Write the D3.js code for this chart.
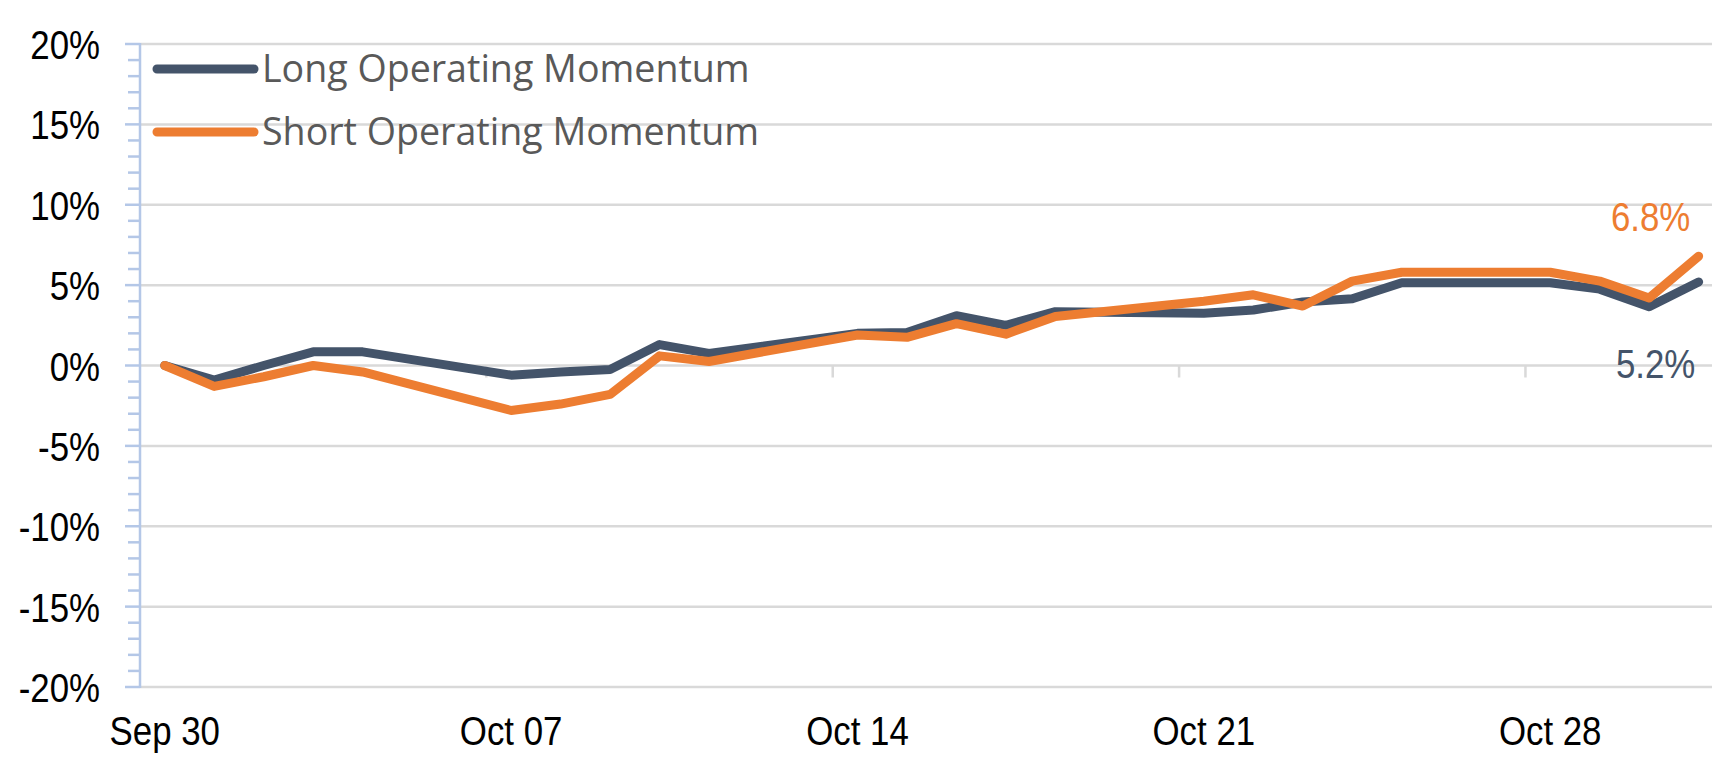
<!DOCTYPE html>
<html>
<head>
<meta charset="utf-8">
<script src="https://cdn.jsdelivr.net/npm/d3@7"></script>
<style>
  body { margin: 0; background: #fff; }
  .num { font-family: "Liberation Sans", Arial, sans-serif; }
  .leg { font-family: "Open Sans", "Noto Sans", sans-serif; fill: #595959; }
</style>
</head>
<body>
<svg id="chart"></svg>
<script>
// data (daily % return, business days)
const dates = ["2024-09-30", "2024-10-01", "2024-10-02", "2024-10-03", "2024-10-04",
  "2024-10-07", "2024-10-08", "2024-10-09", "2024-10-10", "2024-10-11",
  "2024-10-14", "2024-10-15", "2024-10-16", "2024-10-17", "2024-10-18",
  "2024-10-21", "2024-10-22", "2024-10-23", "2024-10-24", "2024-10-25",
  "2024-10-28", "2024-10-29", "2024-10-30", "2024-10-31"];
const longValues = [0, -0.9, 0.0, 0.85, 0.85,
  -0.6, -0.4, -0.25, 1.3, 0.75,
  2.0, 2.05, 3.1, 2.5, 3.35,
  3.25, 3.45, 3.95, 4.15, 5.15,
  5.15, 4.75, 3.65, 5.2];
const shortValues = [0, -1.3, -0.7, 0.0, -0.4,
  -2.8, -2.4, -1.8, 0.6, 0.25,
  1.9, 1.75, 2.6, 1.95, 3.05,
  4.0, 4.4, 3.7, 5.25, 5.8,
  5.8, 5.25, 4.2, 6.8];
const seriesNames = ["Long Operating Momentum", "Short Operating Momentum"];
const yTicks = [-20, -15, -10, -5, 0, 5, 10, 15, 20];
const xTickDates = ["2024-09-30", "2024-10-07", "2024-10-14", "2024-10-21", "2024-10-28"];

const W = 1712, H = 758;
const darkCol = "#44546A", orangeCol = "#ED7D31";
const squeeze = 0.85; // narrow look for the number font

const svg = d3.select("#chart").attr("width", W).attr("height", H);

const parse = d3.utcParse("%Y-%m-%d");
const halfDay = 12 * 3600 * 1000;

const x = d3.scaleUtc()
    .domain([new Date(parse("2024-09-30") - halfDay), new Date(+parse("2024-10-31") + halfDay / 2)])
    .range([140, 1711]);
const y = d3.scaleLinear().domain([-20, 20]).range([687, 44]);

const rows = dates.map((d, i) => ({date: parse(d), long: longValues[i], short: shortValues[i]}));

function placeNarrow(px, py) {
    return "translate(" + px + "," + py + ") scale(" + squeeze + ",1)";
}

// gridlines
svg.append("g")
    .selectAll("line")
    .data(yTicks)
    .enter()
    .append("line")
    .attr("x1", 140).attr("x2", W)
    .attr("y1", d => y(d)).attr("y2", d => y(d))
    .attr("stroke", "#D9D9D9")
    .attr("stroke-width", 2.5);

// y axis with minor ticks
const yAxis = svg.append("g");
yAxis.selectAll("line.minor")
    .data(d3.range(-20, 21, 1))
    .enter()
    .append("line")
    .attr("x1", d => d % 5 == 0 ? 125 : 128).attr("x2", 140)
    .attr("y1", d => y(d)).attr("y2", d => y(d))
    .attr("stroke", "#B4C7E7")
    .attr("stroke-width", 2.5);
yAxis.append("line")
    .attr("x1", 140).attr("x2", 140)
    .attr("y1", y(20) - 1).attr("y2", y(-20) + 1)
    .attr("stroke", "#B4C7E7")
    .attr("stroke-width", 2.5);

yAxis.selectAll("text")
    .data(yTicks)
    .enter()
    .append("text")
    .attr("class", "num")
    .attr("transform", d => placeNarrow(100, y(d) + 15))
    .attr("text-anchor", "end")
    .style("font-size", "41px")
    .attr("fill", "#000")
    .text(d => d + "%");

// x ticks (between days) on the 0 line, labels at bottom
svg.append("g")
    .selectAll("line")
    .data(xTickDates.slice(1))
    .enter()
    .append("line")
    .attr("x1", d => x(parse(d) - halfDay)).attr("x2", d => x(parse(d) - halfDay))
    .attr("y1", y(0)).attr("y2", y(0) + 12)
    .attr("stroke", "#D9D9D9")
    .attr("stroke-width", 2.5);

svg.append("g")
    .selectAll("text")
    .data(xTickDates)
    .enter()
    .append("text")
    .attr("class", "num")
    .attr("transform", d => placeNarrow(x(parse(d)), 745))
    .attr("text-anchor", "middle")
    .style("font-size", "41px")
    .attr("fill", "#000")
    .text(d => d3.utcFormat("%b %d")(parse(d)));

// lines
const lineLong = d3.line().x(d => x(d.date)).y(d => y(d.long));
const lineShort = d3.line().x(d => x(d.date)).y(d => y(d.short));

svg.append("path")
    .datum(rows)
    .attr("d", lineLong)
    .attr("fill", "none")
    .attr("stroke", darkCol)
    .attr("stroke-width", 9)
    .attr("stroke-linecap", "round")
    .attr("stroke-linejoin", "round");

svg.append("path")
    .datum(rows)
    .attr("d", lineShort)
    .attr("fill", "none")
    .attr("stroke", orangeCol)
    .attr("stroke-width", 9)
    .attr("stroke-linecap", "round")
    .attr("stroke-linejoin", "round");

// end labels
const last = rows[rows.length - 1];
svg.append("text")
    .attr("class", "num")
    .attr("transform", placeNarrow(x(last.date) - 48, y(last.short) - 25))
    .attr("text-anchor", "middle")
    .style("font-size", "41px")
    .attr("fill", orangeCol)
    .text(d3.format(".1f")(last.short) + "%");
svg.append("text")
    .attr("class", "num")
    .attr("transform", placeNarrow(x(last.date) - 43, y(last.long) + 96))
    .attr("text-anchor", "middle")
    .style("font-size", "41px")
    .attr("fill", darkCol)
    .text(d3.format(".1f")(last.long) + "%");

// legend
const legend = svg.append("g");
[darkCol, orangeCol].forEach(function (c, i) {
    const ly = 69 + i * 63;
    legend.append("line")
        .attr("x1", 157).attr("x2", 254)
        .attr("y1", ly).attr("y2", ly)
        .attr("stroke", c)
        .attr("stroke-width", 9)
        .attr("stroke-linecap", "round");
    legend.append("text")
        .attr("class", "leg")
        .attr("x", 262)
        .attr("y", ly + 13)
        .style("font-size", "37.6px")
        .text(seriesNames[i]);
});
</script>
</body>
</html>
